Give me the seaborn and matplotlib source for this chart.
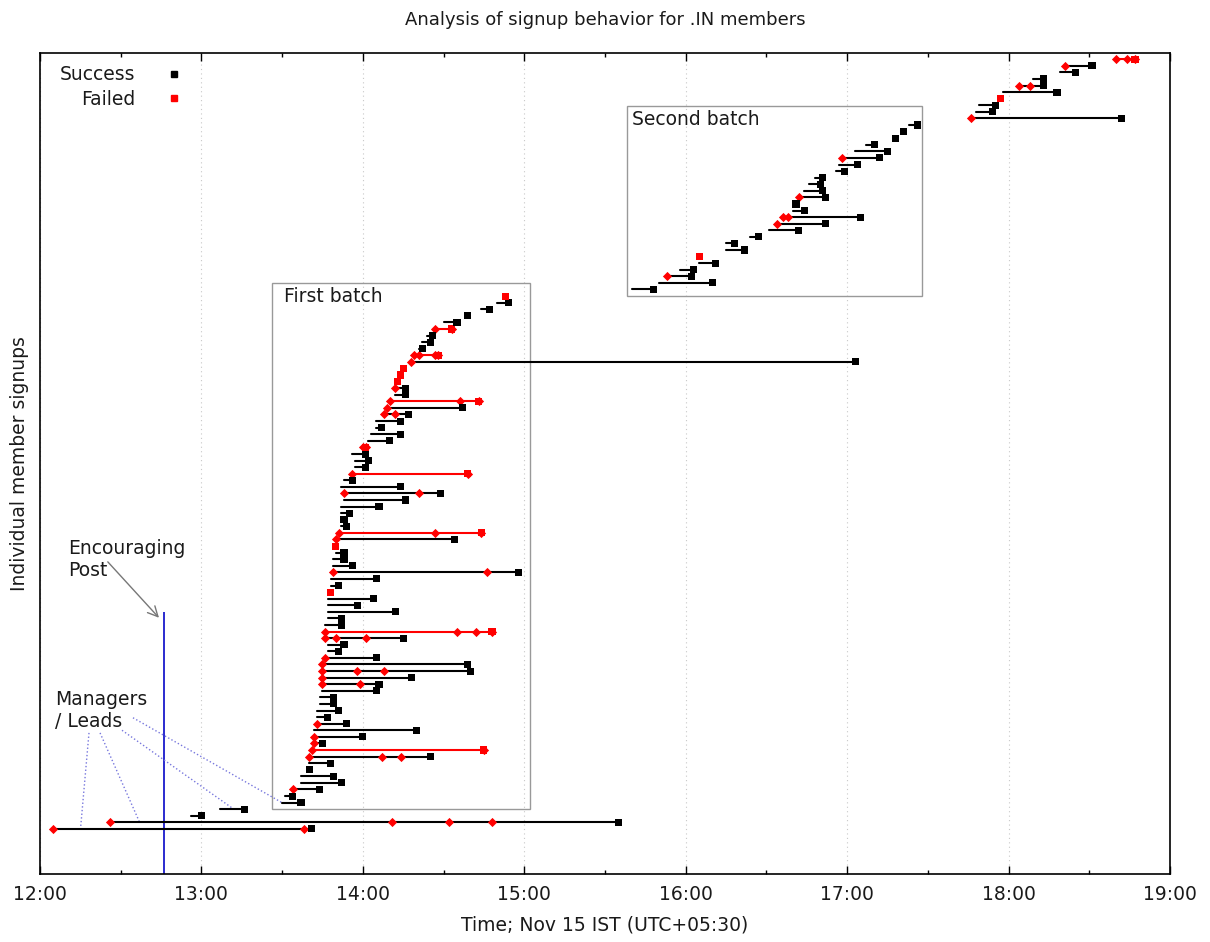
import matplotlib
matplotlib.use("Agg")
import matplotlib.pyplot as plt
import numpy as np
import pandas as pd
import seaborn as sns
from matplotlib.lines import Line2D
from matplotlib.patches import Rectangle
from matplotlib.ticker import FuncFormatter, MultipleLocator

# one row per member signup, bottom to top (clock times, IST)
starts = [
    "12:05", "12:26", "12:56", "13:07", "13:30", "13:31", "13:34", "13:37", "13:37", "13:40",
    "13:40", "13:40", "13:41", "13:42", "13:42", "13:42", "13:43", "13:43", "13:43", "13:44",
    "13:44", "13:45", "13:45", "13:45", "13:45", "13:45", "13:46", "13:47", "13:47", "13:46",
    "13:46", "13:46", "13:47", "13:47", "13:47", "13:47", "13:48", "13:48", "13:48", "13:49",
    "13:49", "13:49", "13:50", "13:50", "13:50", "13:51", "13:52", "13:52", "13:52", "13:52",
    "13:53", "13:53", "13:52", "13:53", "13:56", "13:57", "13:57", "13:56", "14:00", "14:02",
    "14:03", "14:05", "14:05", "14:08", "14:09", "14:10", "14:12", "14:12", "14:13", "14:14",
    "14:15", "14:18", "14:19", "14:21", "14:22", "14:24", "14:27", "14:30", "14:39", "14:44",
    "14:50", "14:53", "15:40", "15:50", "15:53", "15:58", "16:05", "16:05", "16:15", "16:15",
    "16:24", "16:31", "16:34", "16:36", "16:40", "16:41", "16:42", "16:44", "16:46", "16:48",
    "16:56", "16:57", "16:58", "17:03", "17:07", "17:17", "17:20", "17:23", "17:46", "17:48",
    "17:49", "17:57", "17:58", "18:04", "18:09", "18:19", "18:21", "18:40",
]
ends = [
    "13:41", "15:35", "13:00", "13:16", "13:37", "13:34", "13:44", "13:52", "13:49", "13:40",
    "13:48", "14:25", "14:45", "13:45", "14:00", "14:20", "13:54", "13:47", "13:51", "13:49",
    "13:49", "14:05", "14:06", "14:18", "14:40", "14:39", "14:05", "13:51", "13:53", "14:15",
    "14:48", "13:52", "13:52", "14:12", "13:58", "14:04", "13:48", "13:51", "14:05", "14:58",
    "13:56", "13:53", "13:53", "13:50", "14:34", "14:44", "13:54", "13:53", "13:55", "14:06",
    "14:16", "14:29", "14:14", "13:56", "14:39", "14:01", "14:02", "14:01", "14:01", "14:10",
    "14:14", "14:07", "14:14", "14:17", "14:37", "14:43", "14:16", "14:16", "14:13", "14:14",
    "14:15", "17:03", "14:28", "14:22", "14:25", "14:26", "14:33", "14:35", "14:39", "14:47",
    "14:54", "14:53", "15:48", "16:10", "16:02", "16:03", "16:11", "16:05", "16:22", "16:18",
    "16:27", "16:42", "16:52", "17:05", "16:44", "16:41", "16:52", "16:51", "16:50", "16:51",
    "16:59", "17:04", "17:12", "17:15", "17:10", "17:18", "17:21", "17:26", "18:42", "17:54",
    "17:55", "17:57", "18:18", "18:13", "18:13", "18:25", "18:31", "18:47",
]
failed_rows = [12, 30, 36, 43, 45, 54, 58, 65, 68, 69, 70, 72, 76, 81, 87, 111, 117]
retries = {
    0: ["12:05", "13:38"], 1: ["12:26", "14:11", "14:32", "14:48"], 6: ["13:34"],
    11: ["13:40", "14:07", "14:14"], 12: ["13:41", "14:45"], 13: ["13:42"], 14: ["13:42"],
    16: ["13:43"], 22: ["13:45", "13:59"], 23: ["13:45"], 24: ["13:45", "13:58", "14:08"],
    25: ["13:45"], 26: ["13:46"], 29: ["13:46", "13:50", "14:01"],
    30: ["13:46", "14:35", "14:42", "14:48"], 39: ["13:49", "14:46"], 44: ["13:50"],
    45: ["13:51", "14:27", "14:44"], 51: ["13:53", "14:21"], 54: ["13:56", "14:39"],
    58: ["14:00", "14:01"], 63: ["14:08", "14:12"], 64: ["14:09"],
    65: ["14:10", "14:36", "14:43"], 67: ["14:12"], 71: ["14:18"],
    72: ["14:19", "14:21", "14:27", "14:28"], 76: ["14:27", "14:33"], 84: ["15:53"],
    92: ["16:34"], 93: ["16:36", "16:38"], 96: ["16:42"], 102: ["16:58"], 108: ["17:46"],
    113: ["18:04", "18:08"], 116: ["18:21"], 117: ["18:40", "18:44", "18:47"],
}
post_time = "12:46"

RED = "#ff0000"
BLACK = "#000000"
INK = "#1a1a1a"
colors = {"Success": BLACK, "Failed": RED}


def to_hours(stamp):
    hh, mm = stamp.split(":")
    return int(hh) + int(mm) / 60


rows = np.arange(len(starts))
status = np.where(np.isin(rows, failed_rows), "Failed", "Success")
segments = pd.DataFrame({
    "row": np.concatenate([rows, rows]),
    "time": [to_hours(s) for s in starts] + [to_hours(e) for e in ends],
    "status": np.concatenate([status, status]),
})
finals = pd.DataFrame({"row": rows, "time": [to_hours(e) for e in ends], "status": status})
attempts = pd.DataFrame(
    [(r, to_hours(t)) for r, times in retries.items() for t in times], columns=["row", "time"]
)

sns.set_theme(style="white")
plt.rcParams["font.family"] = ["DejaVu Sans"]
plt.rcParams.update({"text.color": INK, "axes.labelcolor": INK,
                     "xtick.labelcolor": INK, "ytick.labelcolor": INK})

fig = plt.figure(figsize=(12.1, 9.42), dpi=100)
ax = fig.add_axes([40 / 1210, 68 / 942, 1130 / 1210, 821 / 942])

sns.lineplot(data=segments, x="time", y="row", units="row", hue="status", estimator=None,
             sort=False, palette=colors, lw=1.5, legend=False, ax=ax, zorder=2)
sns.scatterplot(data=attempts, x="time", y="row", marker="D", color=RED, s=22,
                linewidth=0, ax=ax, zorder=3)
sns.scatterplot(data=finals, x="time", y="row", hue="status", palette=colors, marker="s",
                s=26, linewidth=0, legend=False, ax=ax, zorder=4)

ax.set_xlim(12, 19)
ax.set_ylim(-6.85, 117.95)

# batch boxes and notes
ax.add_patch(Rectangle((13.435, 3.0), 1.6, 80.0, fill=False, ec="#999999", lw=1))
ax.add_patch(Rectangle((15.636, 81.0), 1.828, 28.9, fill=False, ec="#999999", lw=1))
ax.text(13.511, 80.9, "First batch", ha="left", va="center", fontsize=13.5)
ax.text(15.667, 107.8, "Second batch", ha="left", va="center", fontsize=13.5)

ax.vlines(to_hours(post_time), -6.85, 33.0, color="#1a1acc", lw=1.3, zorder=1)
ax.text(12.173, 41.0, "Encouraging\nPost", ha="left", va="center", fontsize=13.5, linespacing=1.2)
ax.annotate("", xy=(12.737, 32.1), xytext=(12.42, 40.6),
            arrowprops=dict(arrowstyle="->", color="#777777", lw=1, shrinkA=0, shrinkB=0,
                            mutation_scale=18))

ax.text(12.093, 18.0, "Managers\n/ Leads", ha="left", va="center", fontsize=13.5, linespacing=1.2)
for (x0, y0), (x1, y1) in [((12.3035, 14.6), (12.252, 0.3)), ((12.372, 14.6), (12.619, 0.9)),
                           ((12.508, 15.0), (13.189, 3.2)), ((12.576, 16.9), (13.499, 4.0))]:
    ax.plot([x0, x1], [y0, y1], color="#7777dd", ls=":", lw=1, zorder=1)

ax.xaxis.set_major_locator(MultipleLocator(1))
ax.xaxis.set_minor_locator(MultipleLocator(0.5))
ax.xaxis.set_major_formatter(FuncFormatter(lambda v, _: f"{int(round(v))}:00"))
ax.tick_params(axis="x", which="both", direction="in", top=True, bottom=True,
               labelsize=13.5, pad=8, color=BLACK, width=1)
ax.tick_params(axis="x", which="major", length=6)
ax.tick_params(axis="x", which="minor", length=3)
ax.set_yticks([])
ax.grid(axis="x", which="major", color="#c8c8c8", linestyle=(0, (1, 3)), lw=0.8)
for spine in ax.spines.values():
    spine.set_color(BLACK)
    spine.set_linewidth(1.2)

ax.set_xlabel("Time; Nov 15 IST (UTC+05:30)", fontsize=13.5, labelpad=8)
ax.set_ylabel("Individual member signups", fontsize=13.5, labelpad=8)
ax.set_title("Analysis of signup behavior for .IN members", fontsize=13, pad=20)

handles = [Line2D([], [], ls="none", marker="s", color=colors[k], ms=5) for k in colors]
ax.legend(handles, list(colors), markerfirst=False, frameon=False, loc="upper left",
          bbox_to_anchor=(0.0177, 0.985), fontsize=13.5, handlelength=1.5,
          handletextpad=1.3, labelspacing=0.3, borderaxespad=0, borderpad=0)

fig.savefig("out.png", dpi=100)
